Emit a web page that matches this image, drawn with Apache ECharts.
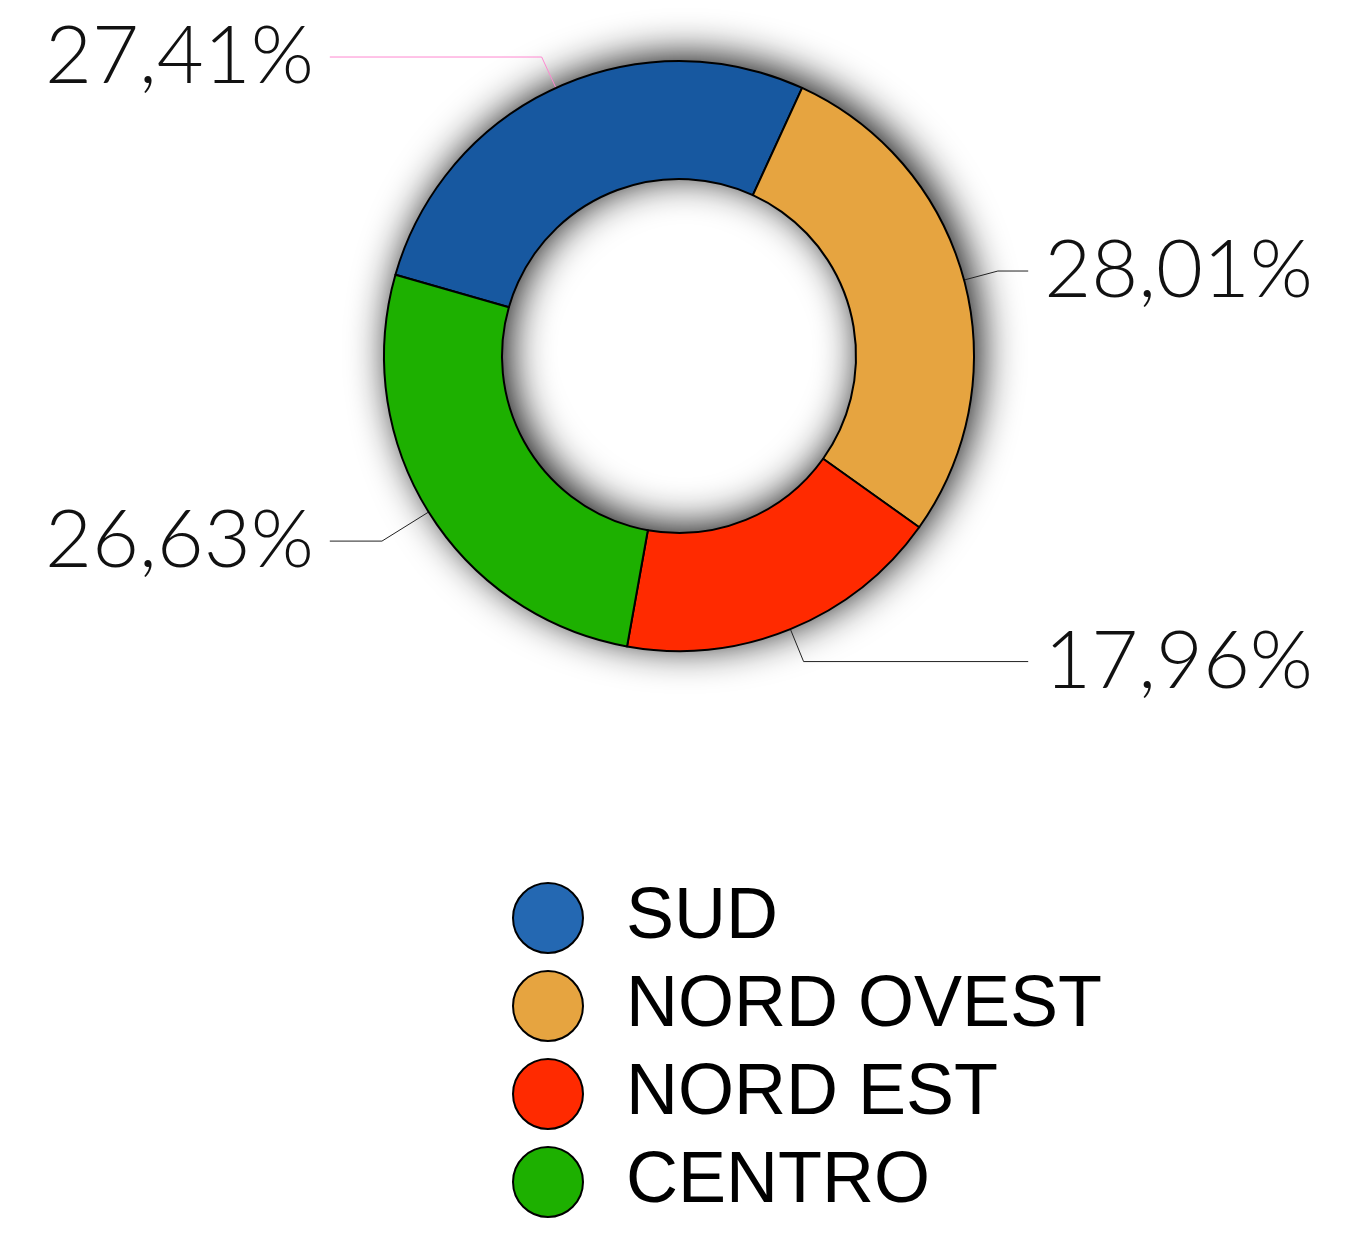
<!DOCTYPE html>
<html>
<head>
<meta charset="utf-8">
<script src="https://cdn.jsdelivr.net/npm/echarts@6/dist/echarts.min.js"></script>
<style>
  html, body { margin: 0; padding: 0; background: #fff; }
  #chart { width: 1358px; height: 1238px; }
</style>
</head>
<body>
<div id="chart"></div>
<script>
// regional share, percent
const regions = ['SUD', 'NORD OVEST', 'NORD EST', 'CENTRO']
const shares = [27.41, 28.01, 17.96, 26.63]
const sliceColors = ['#1758a0', '#e6a440', '#ff2a00', '#1db000']
const legendColors = ['#2468b2', '#e6a440', '#ff2a00', '#1db000']

const fmt = (v) => v.toFixed(2).replace('.', ',') + '%'

// per-slice label line tweaks (the source chart isn't quite uniform)
const lineTweaks = {
  'SUD': { length: 34, lineStyle: { color: '#ff88d0' } },
  'CENTRO': { length: 55 }
}

const CENTER = [679, 356]
const RADIUS = [177, 295]

const chart = echarts.init(document.getElementById('chart'))

chart.setOption({
  animation: false,
  backgroundColor: '#fff',
  legend: {
    orient: 'vertical',
    left: 507,
    top: 877,
    icon: 'circle',
    itemWidth: 70,
    itemHeight: 70,
    itemGap: 16,
    data: regions.map((name, i) => ({
      name,
      itemStyle: { color: legendColors[i], borderColor: '#000', borderWidth: 2 }
    })),
    textStyle: {
      fontFamily: '"Liberation Sans", Arial, sans-serif',
      fontSize: 72,
      lineHeight: 70,
      color: '#000',
      padding: [0, 0, 0, 38]
    }
  },
  series: [
    {
      // one whole ring underneath, only to cast the drop shadow
      type: 'pie',
      name: 'shadow',
      center: CENTER,
      radius: RADIUS,
      silent: true,
      z: 1,
      label: { show: false },
      labelLine: { show: false },
      itemStyle: {
        color: '#555',
        shadowBlur: 40,
        shadowColor: 'rgba(0,0,0,0.95)',
        shadowOffsetX: 6,
        shadowOffsetY: -5
      },
      data: [{ name: '_ring', value: 1 }]
    },
    {
      type: 'pie',
      center: CENTER,
      radius: RADIUS,
      startAngle: 164,
      clockwise: true,
      z: 2,
      itemStyle: {
        borderColor: '#000',
        borderWidth: 2
      },
      label: {
        show: true,
        alignTo: 'edge',
        edgeDistance: 45,
        distanceToLabelLine: 16,
        fontFamily: 'Lato, "Open Sans", sans-serif',
        fontWeight: 300,
        fontSize: 81,
        color: '#111',
        formatter: (p) => fmt(p.value)
      },
      labelLine: {
        show: true,
        length: 35,
        length2: 20,
        lineStyle: { color: '#222', width: 1 }
      },
      emphasis: { disabled: true },
      data: regions.map((name, i) => ({
        name,
        value: shares[i],
        itemStyle: { color: sliceColors[i] },
        labelLine: lineTweaks[name]
      }))
    }
  ]
})
</script>
</body>
</html>
